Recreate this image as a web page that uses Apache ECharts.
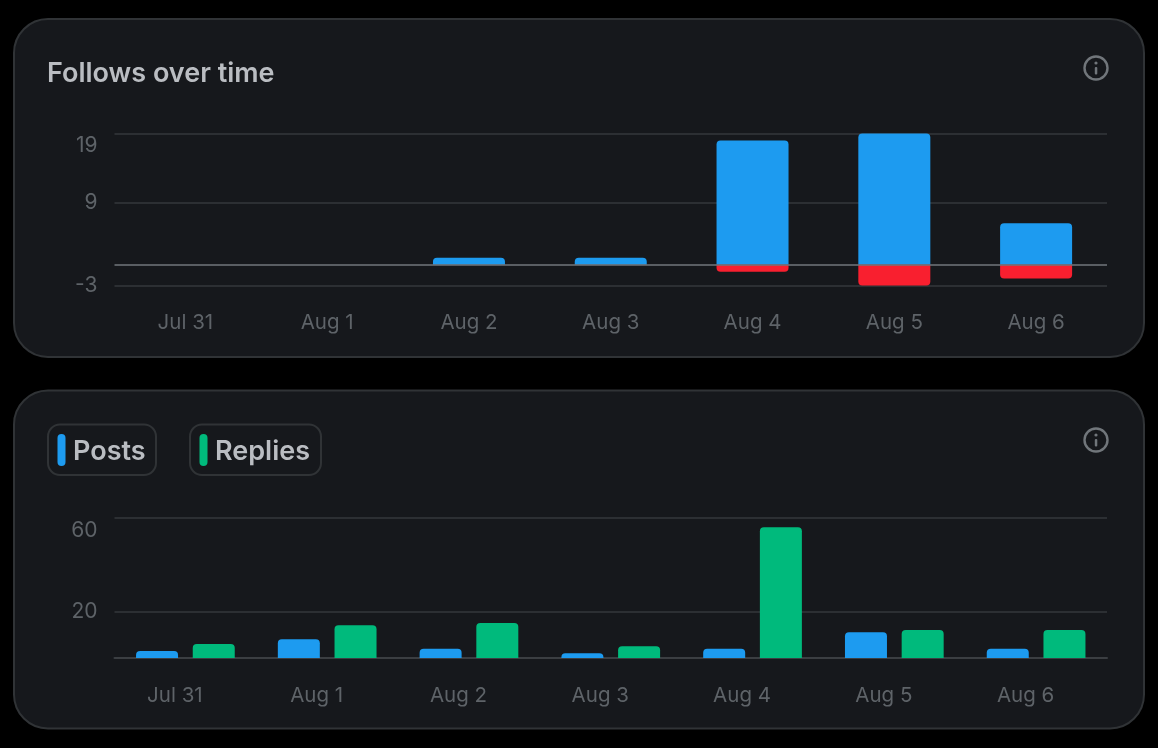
<!DOCTYPE html>
<html>
<head>
<meta charset="utf-8">
<style>html,body{margin:0;padding:0;background:#000;}#c{width:1158px;height:748px;}</style>
<script src="https://cdn.jsdelivr.net/npm/echarts@6/dist/echarts.min.js"></script>
</head>
<body>
<div id="c"></div>
<script>
const categories = ['Jul 31','Aug 1','Aug 2','Aug 3','Aug 4','Aug 5','Aug 6'];
const follows   = [0,0,1,1,18,19,6];
const unfollows = [0,0,0,0,-1,-3,-2];
const posts     = [3,8,4,2,4,11,4];
const replies   = [6,14,15,5,56,12,12];
const followTicks  = [-3,9,19];
const followLabels = [-3,9,19];
const activityTicks  = [20,60];
const activityLabels = [20,60];
const titleText = 'Follows over time';
const legendNames = ['Posts','Replies'];

const FONT = 'Inter, "Noto Sans", sans-serif';
const BLUE='#1d9bf0', RED='#f91f2f', GREEN='#00ba7c';
const CARD='#16181c', BORDER='#303336', GRID='#2c2f33', LABEL='#5e6368', TEXT='#babdc2', ICON='#71767b';

function card(y){ return {type:'rect',z:-10,silent:true,shape:{x:14,y:y,width:1130,height:338,r:34},style:{fill:CARD,stroke:BORDER,lineWidth:2}}; }
function info(cy){ return [
  {type:'circle',z:5,silent:true,shape:{cx:1096,cy:cy,r:11.5},style:{fill:'none',stroke:ICON,lineWidth:2.4}},
  {type:'rect',z:5,silent:true,shape:{x:1094.8,y:cy-1,width:2.5,height:7.5,r:1},style:{fill:ICON}},
  {type:'circle',z:5,silent:true,shape:{cx:1096,cy:cy-5,r:1.6},style:{fill:ICON}}
];}
function pill(x,w,color,name){ return [
  {type:'rect',z:5,silent:true,shape:{x:x,y:424.5,width:w,height:50.5,r:12},style:{fill:'none',stroke:BORDER,lineWidth:2}},
  {type:'rect',z:5,silent:true,shape:{x:x+9.5,y:434,width:8,height:32,r:4},style:{fill:color}},
  {type:'text',z:5,silent:true,style:{x:x+25,y:451.5,text:name,fill:TEXT,font:'600 27px '+FONT,textVerticalAlign:'middle'}}
];}

const yAxisBase = {
  type:'value', axisLine:{show:false},
  splitLine:{show:true,lineStyle:{color:GRID,width:2}}
};
const yLabel = vals => ({color:LABEL,fontFamily:FONT,fontSize:21,margin:17,customValues:vals,verticalAlignMaxLabel:'top',padding:[2,0,0,0]});
const xAxisBase = {
  type:'category', data:categories, axisTick:{show:false}
};

const chart = echarts.init(document.getElementById('c'),null,{renderer:'canvas'});
chart.setOption({
  animation:false,
  backgroundColor:'#000',
  graphic:{elements:[
    card(19),card(390.5),
    ...info(68),...info(440),
    {type:'text',z:5,silent:true,style:{x:47,y:73.5,text:titleText,fill:TEXT,font:'600 27px '+FONT,textVerticalAlign:'middle'}},
    ...pill(48,108,BLUE,legendNames[0]),
    ...pill(190,131,GREEN,legendNames[1])
  ]},
  grid:[
    {left:114.5,top:133.5,width:992.5,height:152},
    {left:114.5,top:518,width:992.5,height:140}
  ],
  xAxis:[
    {...xAxisBase,gridIndex:0,axisLine:{show:false,onZero:false},
     axisLabel:{color:LABEL,fontFamily:FONT,fontSize:20.5,margin:27}},
    {...xAxisBase,gridIndex:1,axisLine:{show:true,lineStyle:{color:'#3b3e42',width:2}},
     axisLabel:{color:LABEL,fontFamily:FONT,fontSize:20.5,margin:27,padding:[0,21,0,0]}}
  ],
  yAxis:[
    {...yAxisBase,gridIndex:0,min:-3,max:19,axisTick:{show:false,customValues:followTicks},axisLabel:yLabel(followLabels)},
    {...yAxisBase,gridIndex:1,min:0,max:60,axisTick:{show:false,customValues:activityTicks},axisLabel:yLabel(activityLabels)}
  ],
  series:[
    {name:'Follows',type:'bar',stack:'f',xAxisIndex:0,yAxisIndex:0,barWidth:72,data:follows,
     itemStyle:{color:BLUE,borderRadius:[4,4,0,0]}},
    {name:'Unfollows',type:'bar',stack:'f',xAxisIndex:0,yAxisIndex:0,barWidth:72,data:unfollows,
     itemStyle:{color:RED,borderRadius:[0,0,4,4]},
     markLine:{silent:true,symbol:'none',z:20,label:{show:false},animation:false,
       lineStyle:{color:'rgba(113,118,123,0.75)',width:2,type:'solid'},emphasis:{disabled:true},data:[{yAxis:0}]}},
    {name:legendNames[0],type:'bar',xAxisIndex:1,yAxisIndex:1,barWidth:42,barGap:'35%',data:posts,
     itemStyle:{color:BLUE,borderRadius:[4,4,0,0]}},
    {name:legendNames[1],type:'bar',xAxisIndex:1,yAxisIndex:1,barWidth:42,barGap:'35%',data:replies,
     itemStyle:{color:GREEN,borderRadius:[4,4,0,0]}}
  ]
});
</script>
</body>
</html>
